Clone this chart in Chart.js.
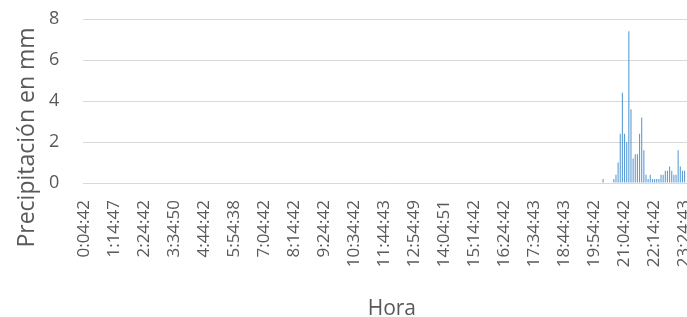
<!DOCTYPE html>
<html><head><meta charset="utf-8">
<script src="https://cdn.jsdelivr.net/npm/chart.js@4/dist/chart.umd.min.js"></script>
<style>
html,body{margin:0;padding:0;background:#fff;overflow:hidden;width:687px;height:317px;}
#wrap{position:absolute;left:0;top:0;width:722px;height:317px;}
</style></head><body>
<div id="wrap"><canvas id="c" width="722" height="317"></canvas></div>
<script>
// Visible tick labels (every 14th category)
const tickLabels = ["0:04:42","1:14:47","2:24:42","3:34:50","4:44:42","5:54:38","7:04:42","8:14:42","9:24:42","10:34:42","11:44:43","12:54:49","14:04:51","15:14:42","16:24:42","17:34:43","18:44:43","19:54:42","21:04:42","22:14:42","23:24:43"];
const labelEvery = 14;
const categoryCount = 288;
// Rainfall: category index -> mm (all other categories 0)
const rainIdx = [242,247,248,249,250,251,252,253,254,255,256,257,258,259,260,261,262,263,264,265,266,267,268,269,270,271,272,273,274,275,276,277,278,279,280];
const rainMm  = [0.2,0.2,0.4,1.0,2.4,4.4,2.4,2.0,7.4,3.6,1.2,1.4,1.4,2.4,3.2,1.6,0.4,0.2,0.4,0.2,0.2,0.2,0.2,0.4,0.4,0.6,0.6,0.8,0.6,0.4,0.4,1.6,0.8,0.6,0.6];
const yTitle = "Precipitación en mm";
const xTitle = "Hora";

const categories = [];
for (let i = 0; i < categoryCount; i++) {
  if (i % labelEvery === 0 && tickLabels[i / labelEvery]) { categories.push(tickLabels[i / labelEvery]); continue; }
  const m = 4 + i * 5; const h = Math.floor(m / 60); const mm = m % 60;
  categories.push(h + ":" + String(mm).padStart(2, "0") + ":42");
}
const values = new Array(categoryCount).fill(0);
rainIdx.forEach((k, j) => { values[k] = rainMm[j]; });

const FONT = '"Open Sans"';
const TXT = '#595959';
const yTitlePlugin = {
  id: 'yTitle',
  afterDraw(chart) {
    const ctx = chart.ctx;
    ctx.save();
    ctx.translate(27, 137.5);
    ctx.rotate(-Math.PI / 2);
    ctx.font = '23px ' + FONT;
    ctx.fillStyle = TXT;
    ctx.textAlign = 'center';
    ctx.textBaseline = 'middle';
    ctx.fillText(yTitle, 0, 0);
    ctx.restore();
  }
};

new Chart(document.getElementById('c'), {
  type: 'bar',
  data: { labels: categories, datasets: [{ data: values, backgroundColor: '#5B9BD5', borderWidth: 0, barPercentage: 0.5, categoryPercentage: 1.0 }] },
  options: {
    responsive: false, animation: false,
    layout: { padding: { top: 19, left: 49, right: 0, bottom: 0 } },
    plugins: { legend: { display: false }, tooltip: { enabled: false } },
    scales: {
      x: {
        offset: true,
        grid: { display: false, drawTicks: false },
        border: { display: false },
        ticks: { autoSkip: false, minRotation: 90, maxRotation: 90, padding: 17, color: TXT, font: { family: FONT, size: 17 },
          callback: (v, i) => (i % labelEvery === 0 ? tickLabels[i / labelEvery] : null) },
        title: { display: true, text: xTitle, color: TXT, font: { family: FONT, size: 21, lineHeight: 0.75 }, padding: { top: 0, bottom: 0 } },
        afterFit(s) { s.height = 134; }
      },
      y: {
        min: 0, max: 8,
        ticks: { stepSize: 2, padding: 0, crossAlign: 'far', color: TXT, font: { family: FONT, size: 18 } },
        grid: { color: '#D9D9D9', drawTicks: false, lineWidth: 1 },
        border: { display: false },
        afterFit(s) { s.width = 34; }
      }
    }
  },
  plugins: [yTitlePlugin]
});
</script>
</body></html>
